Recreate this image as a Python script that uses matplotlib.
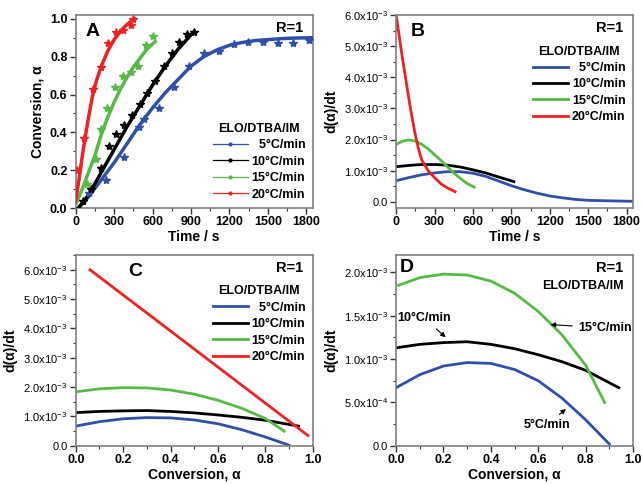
import numpy as np
import matplotlib
matplotlib.use("Agg")
import matplotlib.pyplot as plt
from matplotlib.ticker import MultipleLocator, FuncFormatter

plt.rcParams['font.family'] = ['Liberation Sans', 'DejaVu Sans']
plt.rcParams['mathtext.fontset'] = 'custom'
plt.rcParams['mathtext.rm'] = 'Liberation Sans'
plt.rcParams['mathtext.bf'] = 'Liberation Sans:bold'

rates = ["  5°C/min", "10°C/min", "15°C/min", "20°C/min"]
colors = ["#3050a8", "#000000", "#55bb44", "#ee2222"]

# panel A: conversion vs time (fit lines)
t_fit_5 = [20, 100, 200, 300, 400, 500, 600, 700, 800, 900, 1000, 1100, 1200, 1300, 1400, 1500, 1600, 1700, 1850]
a_fit_5 = [0, 0.06, 0.15, 0.24, 0.34, 0.44, 0.53, 0.61, 0.68, 0.75, 0.80, 0.835, 0.86, 0.875, 0.885, 0.89, 0.895, 0.898, 0.90]
t_fit_10 = [20, 100, 200, 300, 400, 500, 600, 700, 800, 920]
a_fit_10 = [0, 0.07, 0.19, 0.31, 0.43, 0.54, 0.65, 0.75, 0.84, 0.93]
t_fit_15 = [0, 50, 100, 150, 200, 250, 300, 350, 400, 450, 500, 550, 620]
a_fit_15 = [0.02, 0.10, 0.19, 0.28, 0.39, 0.48, 0.56, 0.63, 0.69, 0.745, 0.79, 0.835, 0.88]
t_fit_20 = [0, 25, 50, 75, 100, 130, 160, 200, 250, 300, 350, 400, 460]
a_fit_20 = [0.04, 0.15, 0.27, 0.38, 0.48, 0.59, 0.67, 0.75, 0.83, 0.89, 0.935, 0.97, 1.0]

# panel A: measured points
t_pts_5 = [106, 235, 376, 492, 536, 652, 768, 884, 1000, 1116, 1232, 1348, 1464, 1580, 1696, 1820]
a_pts_5 = [0.08, 0.15, 0.27, 0.43, 0.47, 0.53, 0.64, 0.75, 0.82, 0.83, 0.865, 0.88, 0.88, 0.87, 0.87, 0.89]
t_pts_10 = [60, 120, 200, 260, 312, 380, 440, 500, 560, 620, 690, 750, 810, 870, 920]
a_pts_10 = [0.04, 0.10, 0.21, 0.33, 0.39, 0.44, 0.49, 0.55, 0.61, 0.67, 0.75, 0.82, 0.88, 0.92, 0.93]
t_pts_15 = [85, 157, 196, 247, 307, 369, 433, 487, 549, 600]
a_pts_15 = [0.13, 0.26, 0.42, 0.53, 0.64, 0.70, 0.72, 0.75, 0.86, 0.91]
t_pts_20 = [8, 67, 137, 196, 255, 312, 369, 428, 445]
a_pts_20 = [0.20, 0.37, 0.63, 0.745, 0.87, 0.93, 0.94, 0.965, 1.0]

# panel B: rate vs time (x1e-3)
t_b_5 = [0, 100, 200, 300, 400, 500, 600, 700, 800, 900, 1000, 1100, 1200, 1300, 1400, 1500, 1600, 1700, 1850]
r_b_5 = [0.68, 0.78, 0.87, 0.93, 0.97, 0.97, 0.92, 0.82, 0.67, 0.52, 0.39, 0.28, 0.19, 0.13, 0.08, 0.05, 0.04, 0.03, 0.02]
t_b_10 = [0, 100, 200, 300, 400, 500, 600, 700, 800, 920]
r_b_10 = [1.13, 1.17, 1.20, 1.20, 1.18, 1.12, 1.03, 0.93, 0.80, 0.65]
t_b_15 = [0, 50, 100, 150, 200, 250, 300, 350, 400, 450, 500, 550, 610]
r_b_15 = [1.85, 1.95, 1.99, 1.95, 1.85, 1.70, 1.52, 1.33, 1.13, 0.93, 0.76, 0.60, 0.47]
t_b_20 = [0, 25, 50, 75, 100, 125, 150, 175, 200, 250, 300, 350, 400, 460]
r_b_20 = [6.0, 5.3, 4.6, 3.95, 3.3, 2.7, 2.15, 1.7, 1.35, 1.0, 0.78, 0.58, 0.45, 0.33]

# panels C/D: rate vs conversion (x1e-3)
a_c_5 = [0.0, 0.1, 0.2, 0.3, 0.4, 0.5, 0.6, 0.7, 0.8, 0.9]
r_c_5 = [0.67, 0.82, 0.92, 0.96, 0.95, 0.88, 0.75, 0.55, 0.30, 0.02]
a_c_10 = [0.0, 0.1, 0.2, 0.3, 0.4, 0.5, 0.6, 0.7, 0.8, 0.94]
r_c_10 = [1.13, 1.17, 1.19, 1.20, 1.17, 1.12, 1.05, 0.97, 0.87, 0.67]
a_c_15 = [0.01, 0.1, 0.2, 0.3, 0.4, 0.5, 0.6, 0.7, 0.8, 0.88]
r_c_15 = [1.85, 1.94, 1.98, 1.97, 1.90, 1.76, 1.55, 1.28, 0.93, 0.50]
a_c_20 = [0.06, 0.98]
r_c_20 = [6.0, 0.35]

fig = plt.figure(figsize=(6.42, 4.84), dpi=100)
axA = fig.add_axes([0.118, 0.570, 0.369, 0.399])
axB = fig.add_axes([0.617, 0.570, 0.369, 0.399])
axC = fig.add_axes([0.118, 0.079, 0.369, 0.394])
axD = fig.add_axes([0.617, 0.079, 0.369, 0.394])


def sci(v, pos):
    if abs(v) < 1e-12:
        return "0.0"
    m, e = ("%.1e" % v).split("e")
    return r"$%s\mathrm{x}10^{%d}$" % (m, int(e))


def style(ax, bold_y=True):
    for s in ax.spines.values():
        s.set_color("#808080")
        s.set_linewidth(1.2)
    ax.tick_params(which="both", direction="out", color="#333333", pad=2)
    ax.tick_params(which="major", length=4, width=1)
    ax.tick_params(which="minor", length=2.5, width=0.8)
    for lab in ax.get_xticklabels():
        lab.set_fontweight("bold")
        lab.set_fontsize(9)
    for lab in ax.get_yticklabels():
        lab.set_fontweight("bold" if bold_y else "normal")
        lab.set_fontsize(9 if bold_y else 8)


leg_kw = dict(frameon=False, title_fontproperties={"weight": "bold", "size": 9},
              prop={"weight": "bold", "size": 9}, handlelength=2.8, labelspacing=0.35,
              borderaxespad=0.2, handletextpad=0.3)

# --- A
fits = [(t_fit_5, a_fit_5), (t_fit_10, a_fit_10), (t_fit_15, a_fit_15), (t_fit_20, a_fit_20)]
pts = [(t_pts_5, a_pts_5), (t_pts_10, a_pts_10), (t_pts_15, a_pts_15), (t_pts_20, a_pts_20)]
for (tf, af), (tp, ap), c, lab in zip(fits, pts, colors, rates):
    axA.plot(tf, af, color=c, lw=2.5, zorder=3)
    axA.plot(tp, ap, "*", color=c, ms=6, zorder=4)
    axA.plot([], [], color=c, lw=0.9, marker="o", ms=2, label=lab)
axA.set_xlim(0, 1850)
axA.set_ylim(0, 1.02)
axA.xaxis.set_major_locator(MultipleLocator(300))
axA.xaxis.set_minor_locator(MultipleLocator(150))
axA.yaxis.set_major_locator(MultipleLocator(0.2))
axA.yaxis.set_minor_locator(MultipleLocator(0.1))
axA.yaxis.set_major_formatter(FuncFormatter(lambda v, p: "%.1f" % v))
axA.set_xlabel("Time / s", fontsize=10, fontweight="bold", labelpad=1)
axA.set_ylabel("Conversion, α", fontsize=10, fontweight="bold")
style(axA)
axA.legend(title="ELO/DTBA/IM", loc="lower right", **leg_kw)
axA.text(0.04, 0.96, "A", transform=axA.transAxes, fontsize=14, fontweight="bold", va="top")
axA.text(0.96, 0.97, "R=1", transform=axA.transAxes, fontsize=10.5, fontweight="bold", va="top", ha="right")

# --- B
rb = [(t_b_5, r_b_5), (t_b_10, r_b_10), (t_b_15, r_b_15), (t_b_20, r_b_20)]
for (t, r), c, lab in zip(rb, colors, rates):
    axB.plot(t, np.array(r) * 1e-3, color=c, lw=2, label=lab)
axB.set_xlim(0, 1850)
axB.set_ylim(-0.2e-3, 6.0e-3)
axB.xaxis.set_major_locator(MultipleLocator(300))
axB.xaxis.set_minor_locator(MultipleLocator(150))
axB.yaxis.set_major_locator(MultipleLocator(1e-3))
axB.yaxis.set_minor_locator(MultipleLocator(0.5e-3))
axB.yaxis.set_major_formatter(FuncFormatter(sci))
axB.set_xlabel("Time / s", fontsize=10, fontweight="bold", labelpad=1)
axB.set_ylabel("d(α)/dt", fontsize=10, fontweight="bold")
style(axB, bold_y=False)
axB.legend(title="ELO/DTBA/IM", loc="upper right", bbox_to_anchor=(1.0, 0.88), **leg_kw)
axB.text(0.06, 0.96, "B", transform=axB.transAxes, fontsize=14, fontweight="bold", va="top")
axB.text(0.96, 0.97, "R=1", transform=axB.transAxes, fontsize=10.5, fontweight="bold", va="top", ha="right")

# --- C
rc = [(a_c_5, r_c_5), (a_c_10, r_c_10), (a_c_15, r_c_15), (a_c_20, r_c_20)]
for (a, r), c, lab in zip(rc, colors, rates):
    axC.plot(a, np.array(r) * 1e-3, color=c, lw=2, label=lab)
axC.set_xlim(0, 1.0)
axC.set_ylim(0, 6.5e-3)
axC.xaxis.set_major_locator(MultipleLocator(0.2))
axC.xaxis.set_minor_locator(MultipleLocator(0.1))
axC.xaxis.set_major_formatter(FuncFormatter(lambda v, p: "%.1f" % v))
axC.yaxis.set_major_locator(MultipleLocator(1e-3))
axC.yaxis.set_minor_locator(MultipleLocator(0.5e-3))
axC.yaxis.set_major_formatter(FuncFormatter(sci))
axC.set_xlabel("Conversion, α", fontsize=10, fontweight="bold", labelpad=1)
axC.set_ylabel("d(α)/dt", fontsize=10, fontweight="bold")
style(axC, bold_y=False)
axC.legend(title="ELO/DTBA/IM", loc="upper right", bbox_to_anchor=(1.0, 0.88), **leg_kw)
axC.text(0.22, 0.96, "C", transform=axC.transAxes, fontsize=14, fontweight="bold", va="top")
axC.text(0.96, 0.97, "R=1", transform=axC.transAxes, fontsize=10.5, fontweight="bold", va="top", ha="right")

# --- D
for (a, r), c in zip(rc[:3], colors[:3]):
    axD.plot(a, np.array(r) * 1e-3, color=c, lw=2)
axD.set_xlim(0, 1.0)
axD.set_ylim(0, 2.2e-3)
axD.xaxis.set_major_locator(MultipleLocator(0.2))
axD.xaxis.set_minor_locator(MultipleLocator(0.1))
axD.xaxis.set_major_formatter(FuncFormatter(lambda v, p: "%.1f" % v))
axD.yaxis.set_major_locator(MultipleLocator(0.5e-3))
axD.yaxis.set_minor_locator(MultipleLocator(0.25e-3))
axD.yaxis.set_major_formatter(FuncFormatter(sci))
axD.set_xlabel("Conversion, α", fontsize=10, fontweight="bold", labelpad=1)
axD.set_ylabel("d(α)/dt", fontsize=10, fontweight="bold")
style(axD, bold_y=False)
arr = dict(arrowstyle="-|>", color="black", lw=0.8, mutation_scale=7)
axD.annotate("10°C/min", xy=(0.218, 1.23e-3), xytext=(0.12, 1.47e-3), fontsize=9, fontweight="bold",
             ha="center", va="center", arrowprops=arr)
axD.annotate("15°C/min", xy=(0.64, 1.40e-3), xytext=(0.88, 1.36e-3), fontsize=9, fontweight="bold",
             ha="center", va="center", arrowprops=arr)
axD.annotate("5°C/min", xy=(0.726, 0.444e-3), xytext=(0.635, 0.24e-3), fontsize=9, fontweight="bold",
             ha="center", va="center", arrowprops=arr)
axD.text(0.015, 0.98, "D", transform=axD.transAxes, fontsize=14, fontweight="bold", va="top")
axD.text(0.96, 0.97, "R=1", transform=axD.transAxes, fontsize=10.5, fontweight="bold", va="top", ha="right")
axD.text(0.96, 0.87, "ELO/DTBA/IM", transform=axD.transAxes, fontsize=9, fontweight="bold", va="top", ha="right")

fig.savefig("out.png", dpi=100)
